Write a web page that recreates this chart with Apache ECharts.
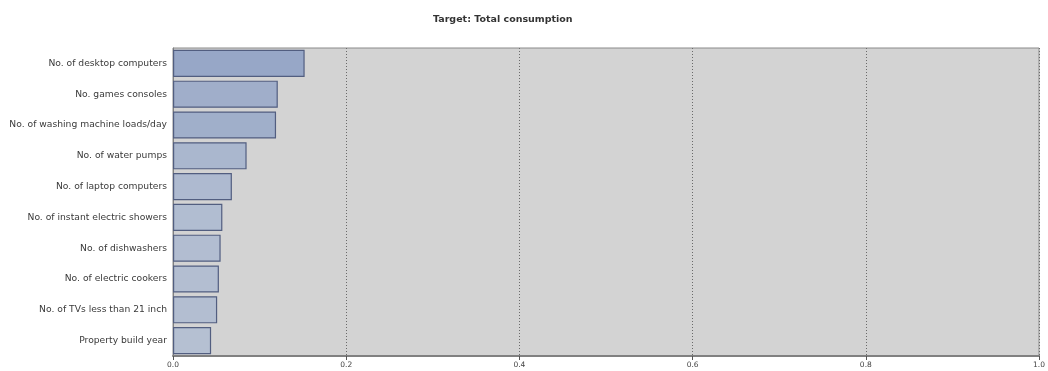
<!DOCTYPE html>
<html>
<head>
<meta charset="utf-8">
<script src="https://cdn.jsdelivr.net/npm/echarts@6/dist/echarts.min.js"></script>
<style>html,body{margin:0;padding:0;background:#fff}#c{width:1048px;height:371px}</style>
</head>
<body>
<div id="c"></div>
<script>
const categories = [
  "No. of desktop computers",
  "No. games consoles",
  "No. of washing machine loads/day",
  "No. of water pumps",
  "No. of laptop computers",
  "No. of instant electric showers",
  "No. of dishwashers",
  "No. of electric cookers",
  "No. of TVs less than 21 inch",
  "Property build year"
];
const importance = [0.152, 0.121, 0.119, 0.085, 0.068, 0.057, 0.055, 0.053, 0.051, 0.044];
const xTicks = [0.0, 0.2, 0.4, 0.6, 0.8, 1.0];
const titleText = "Target: Total consumption";

const chart = echarts.init(document.getElementById('c'), null, {renderer: 'canvas'});
chart.setOption({
  animation: false,
  backgroundColor: '#ffffff',
  title: {
    text: titleText,
    left: 428, top: 10,
    textStyle: {fontFamily: 'DejaVu Sans, sans-serif', fontSize: 9.5, fontWeight: 'bold', color: '#333'}
  },
  visualMap: {
    show: false, type: 'continuous', dimension: 0,
    min: 0.044, max: 0.152,
    inRange: {color: ['#b5c0d2', '#97a7c7']}
  },
  grid: {
    left: 173, right: 7, top: 48, bottom: 15,
    show: true, backgroundColor: '#d3d3d3', borderColor: '#8a8a8a', borderWidth: 1
  },
  xAxis: {
    type: 'value', min: 0, max: 1, interval: 0.2,
    axisLine: {show: true, lineStyle: {color: '#808080', width: 2}},
    axisTick: {show: true, length: 4, lineStyle: {color: '#555'}},
    axisLabel: {
      fontSize: 7.5, color: '#444', margin: 5,
      fontFamily: 'DejaVu Sans, sans-serif',
      formatter: v => v.toFixed(1)
    },
    splitLine: {show: true, lineStyle: {color: '#6a6a6a', type: [1, 2], width: 1}}
  },
  yAxis: {
    type: 'category', data: categories, inverse: true,
    axisLine: {show: true, lineStyle: {color: '#808080', width: 1}},
    axisTick: {show: false},
    axisLabel: {fontSize: 9.2, color: '#3a3a3a', margin: 6, fontFamily: 'DejaVu Sans, sans-serif'},
    splitLine: {show: false}
  },
  series: [{
    type: 'bar',
    data: importance,
    barCategoryGap: '12%',
    itemStyle: {borderColor: '#525e80', borderWidth: 1.2}
  }]
});
</script>
</body>
</html>
